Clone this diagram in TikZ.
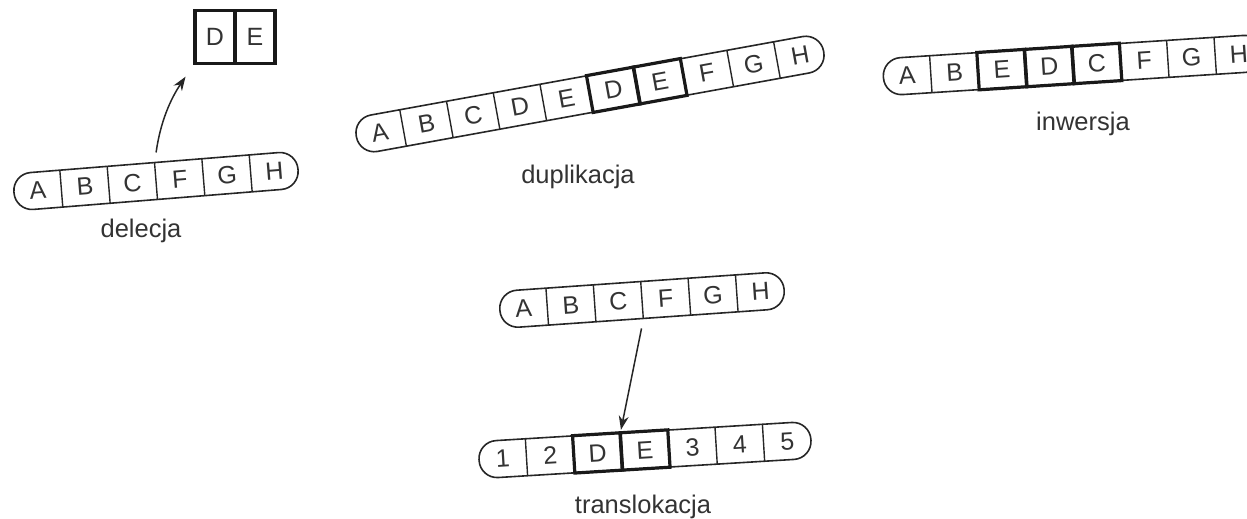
\documentclass[tikz,border=0pt]{standalone}
\usepackage{fontspec}
\setmainfont{Liberation Sans}
\usetikzlibrary{arrows.meta}
\tikzset{
  outline/.style={line width=1.6pt, rounded corners=18pt, draw=black!85},
  divider/.style={line width=1.4pt, draw=black!85},
  thickline/.style={line width=3.2pt, draw=black!90},
  cell/.style={inner sep=0pt, minimum width=47.5pt, minimum height=37pt, font=\fontsize{25}{25}\selectfont, text=black!80},
  debox/.style={draw=black!90, line width=3.2pt, inner sep=0pt, minimum width=40pt, minimum height=53pt, font=\fontsize{25}{25}\selectfont, text=black!80},
  lbl/.style={font=\fontsize{25.5}{25.5}\selectfont, text=black!80, anchor=base},
  arr/.style={line width=1.5pt, draw=black!85, -{Stealth[length=14pt,width=10pt]}},
}
% name, cx, cy, angle, labels, thick cells
\newcommand\chromo[6]{%
  \begin{scope}[shift={(#2,#3)}, rotate=#4]
    \foreach \t [count=\k] in {#5} {\xdef\nc{\k}}
    \pgfmathsetmacro\hl{\nc*47.5/2}
    \draw[outline] (-\hl,-18.5) rectangle (\hl,18.5);
    \foreach \t [count=\k] in {#5}
      \node[cell, transform shape] (#1-\k) at ({(\k-0.5)*47.5-\hl},0) {\t};
    \foreach \k in {2,...,\nc}
      \draw[divider] ({(\k-1)*47.5-\hl},-18.5) -- ++(0,37);
    \foreach \k in {#6}
      \draw[thickline] (#1-\k.south west) -- (#1-\k.south east) -- (#1-\k.north east) -- (#1-\k.north west) -- cycle;
  \end{scope}}
\begin{document}
\begin{tikzpicture}[x=1pt,y=1pt]
\useasboundingbox (0,0) rectangle (1247,-519);
% delecja
\chromo{del}{156}{-181}{4.6}{A,B,C,F,G,H}{}
\node[debox] (de-1) at (215,-37) {D};
\node[debox] (de-2) at (255,-37) {E};
\draw[arr, shorten <=10pt, shorten >=14pt] (del-3.north east) to[out=82,in=-124] (de-1.south west);
\node[lbl] (l-del) at (141,-237) {delecja};
% duplikacja
\chromo{dup}{590}{-94}{10.3}{A,B,C,D,E,D,E,F,G,H}{6,7}
\node[lbl] (l-dup) at (578,-183) {duplikacja};
% inwersja
\chromo{inw}{1073}{-65}{3.7}{A,B,E,D,C,F,G,H}{3,4,5}
\node[lbl] (l-inw) at (1083,-130) {inwersja};
% translokacja
\chromo{ta}{642}{-300}{4}{A,B,C,F,G,H}{}
\chromo{tb}{645}{-450}{3.5}{1,2,D,E,3,4,5}{3,4}
\draw[arr, shorten <=10pt, shorten >=3pt] (ta-3.south east) -- (tb-3.north east);
\node[lbl] (l-tr) at (643,-513) {translokacja};
\end{tikzpicture}
\end{document}
